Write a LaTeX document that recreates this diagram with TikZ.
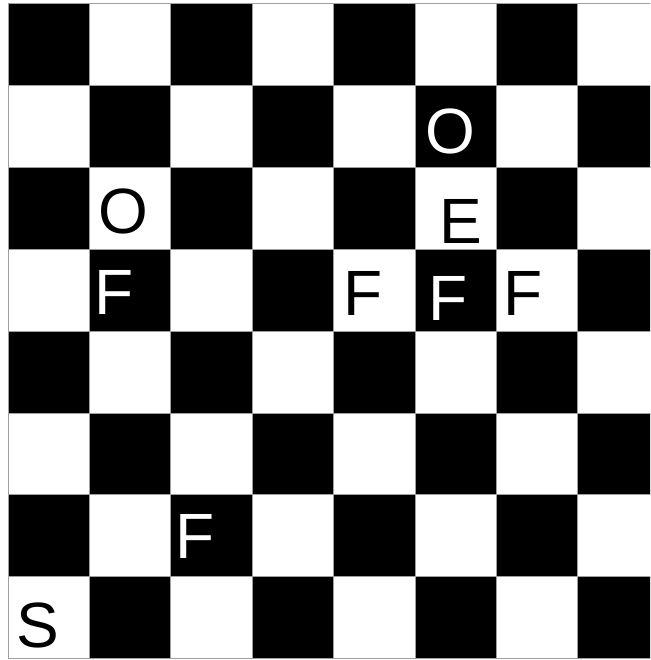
\documentclass[tikz,border=0pt]{standalone}
\usepackage{fontspec}
\setmainfont{Liberation Sans}
\begin{document}
\begin{tikzpicture}[x=1pt,y=-1pt,
  ltr/.style={font=\fontsize{64}{64}\selectfont, inner sep=0pt, anchor=center},
  onblack/.style={ltr, text=white},
  onwhite/.style={ltr, text=black},
  sqborder/.style={draw=gray!75, line width=1pt}]
\useasboundingbox (0,0) rectangle (650,660);
\clip (0,0) rectangle (650,660);
\fill[white] (0,0) rectangle (650,660);
\foreach \r in {0,...,7}{\foreach \c in {0,...,7}{
  \pgfmathtruncatemacro{\p}{mod(\r+\c,2)}
  \ifnum\p=0 \def\sq{black}\else\def\sq{white}\fi
  \filldraw[sqborder, fill=\sq] ({8+81.4*\c},{4+81.8*\r}) rectangle ++(81.4,81.8);
}}
\node[onblack] (o1) at (450,131) {O};
\node[onwhite] (o2) at (123,211) {O};
\node[onwhite] (e1) at (461,221) {E};
\node[onblack] (f1) at (114,292) {F};
\node[onwhite] (f2) at (363,293) {F};
\node[onblack] (f3) at (448,298) {F};
\node[onwhite] (f4) at (523,293) {F};
\node[onblack] (f5) at (195,536) {F};
\node[onwhite] (s1) at (38,625) {S};
\end{tikzpicture}
\end{document}
